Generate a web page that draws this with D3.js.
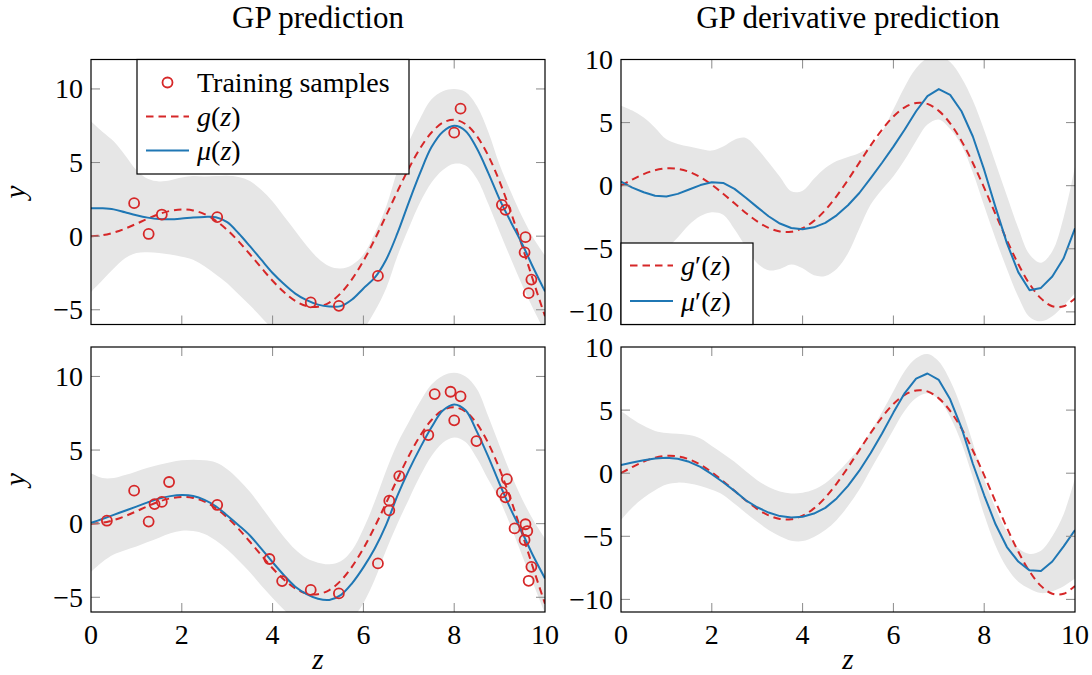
<!DOCTYPE html>
<html>
<head>
<meta charset="utf-8">
<script src="https://cdn.jsdelivr.net/npm/d3@7"></script>
<style>
  html, body { margin: 0; padding: 0; background: #fff; }
  svg { display: block; }
  svg text { font-family: 'Liberation Serif', 'DejaVu Serif', serif; }
</style>
</head>
<body>
<svg id="fig" width="1092" height="675"></svg>
<script>
// ---- data -------------------------------------------------------------
const zGrid = [0,0.25,0.5,0.75,1,1.25,1.5,1.75,2,2.25,2.5,2.75,3,3.25,3.5,3.75,4,4.25,4.5,4.75,
               5,5.25,5.5,5.75,6,6.25,6.5,6.75,7,7.25,7.5,7.75,8,8.25,8.5,8.75,9,9.25,9.5,9.75,10];

// reference function g(z) and its derivative g'(z)
const gRef  = [0,0.06,0.24,0.51,0.84,1.19,1.50,1.72,1.82,1.75,1.50,1.05,0.42,-0.35,-1.23,-2.14,-3.03,-3.80,-4.40,-4.75,
               -4.79,-4.51,-3.88,-2.92,-1.68,-0.21,1.40,3.04,4.60,5.97,7.04,7.71,7.91,7.61,6.79,5.47,3.71,1.61,-0.71,-3.12,-5.44];
const gDer  = [0,0.49,0.92,1.23,1.38,1.34,1.10,0.67,0.08,-0.64,-1.40,-2.16,-2.83,-3.34,-3.63,-3.65,-3.37,-2.79,-1.93,-0.82,
               0.46,1.83,3.19,4.44,5.48,6.21,6.56,6.48,5.93,4.94,3.54,1.80,-0.17,-2.26,-4.32,-6.21,-7.79,-8.93,-9.55,-9.56,-8.93];

// GP prediction, few samples
const muA   = [1.90,1.89,1.82,1.62,1.42,1.26,1.16,1.15,1.20,1.27,1.31,1.29,0.95,0.20,-0.68,-1.60,-2.50,-3.25,-3.90,-4.35,
               -4.65,-4.78,-4.75,-4.30,-3.55,-2.82,-1.60,0.20,2.30,4.30,6.05,7.10,7.50,7.15,5.95,4.30,2.50,0.95,-0.55,-2.20,-3.75];
const muAHi = [7.79,7.10,6.45,5.50,4.50,3.90,3.72,3.80,3.98,4.08,4.05,4.08,4.10,4.02,3.75,3.15,2.35,1.35,0.35,-0.65,
               -1.50,-2.05,-2.20,-1.95,-1.25,0.20,2.00,4.45,6.40,8.00,9.30,9.85,10.00,9.80,8.85,7.10,4.85,3.00,1.30,-0.15,-1.30];
const muALo = [-3.80,-3.00,-2.20,-1.50,-1.15,-1.10,-1.15,-1.25,-1.40,-1.60,-2.05,-2.60,-3.20,-3.95,-4.70,-5.50,-6.30,-7.00,-7.60,-7.90,
               -7.80,-7.50,-7.30,-6.90,-6.30,-5.10,-3.55,-1.35,0.55,2.30,3.65,4.50,4.92,4.80,3.90,2.20,0.30,-1.55,-3.35,-5.00,-6.50];

// GP prediction, many samples
const muB   = [0.05,0.32,0.60,0.88,1.16,1.45,1.70,1.87,1.94,1.88,1.62,1.18,0.56,-0.10,-0.80,-1.70,-2.62,-3.50,-4.28,-4.78,
               -5.10,-5.18,-4.85,-4.05,-2.97,-1.69,-0.08,1.90,3.62,5.15,6.55,7.68,8.10,7.70,6.25,4.55,2.70,0.95,-0.62,-2.25,-3.72];
const muBHi = [3.42,3.10,3.10,3.30,3.55,3.80,4.00,4.18,4.30,4.35,4.30,4.15,3.70,3.00,2.16,1.15,0.10,-0.90,-1.75,-2.35,
               -2.65,-2.75,-2.55,-1.80,-0.35,1.50,3.60,5.45,6.90,8.30,9.45,10.05,10.25,10.00,9.15,7.30,5.30,3.35,1.65,0.20,-1.00];
const muBLo = [-3.27,-2.60,-2.10,-1.80,-1.55,-1.25,-0.95,-0.65,-0.48,-0.50,-0.70,-1.15,-1.75,-2.50,-3.30,-4.20,-5.05,-5.85,-6.60,-7.20,
               -7.50,-7.60,-7.30,-6.50,-5.40,-3.80,-1.80,0.00,1.65,3.25,4.60,5.50,5.85,5.55,4.45,3.00,1.60,-0.20,-2.20,-4.15,-6.10];

// GP derivative prediction, few samples
const dmuA   = [0.32,-0.15,-0.52,-0.80,-0.85,-0.65,-0.30,0.05,0.28,0.22,-0.25,-0.95,-1.70,-2.42,-3.00,-3.35,-3.45,-3.30,-2.95,-2.35,
                -1.55,-0.58,0.60,1.82,3.10,4.45,5.90,7.10,7.66,7.20,5.90,3.90,1.25,-1.72,-4.55,-6.85,-8.28,-8.10,-7.20,-5.75,-3.38];
const dmuAHi = [6.34,5.95,5.40,4.60,3.68,3.30,3.10,2.90,2.78,3.10,3.65,3.78,2.95,1.85,0.70,-0.45,-0.40,0.55,1.40,1.95,
                2.28,2.60,3.10,4.25,6.05,7.85,9.30,10.10,10.30,9.80,8.55,6.75,4.40,1.80,-0.80,-3.35,-5.45,-6.10,-5.20,-2.50,1.50];
const dmuALo = [-6.20,-6.30,-6.20,-5.70,-5.00,-4.10,-3.10,-2.40,-2.10,-2.30,-3.45,-4.85,-6.15,-6.70,-6.60,-6.25,-6.55,-7.10,-7.15,-6.60,
                -5.35,-3.40,-1.50,-0.30,0.75,2.05,3.55,4.85,5.25,4.50,3.20,1.05,-1.60,-4.20,-6.60,-8.80,-10.40,-10.75,-10.35,-9.50,-8.50];

// GP derivative prediction, many samples
const dmuB   = [0.65,0.85,1.03,1.17,1.23,1.15,0.90,0.50,-0.08,-0.72,-1.40,-2.15,-2.70,-3.12,-3.40,-3.52,-3.45,-3.20,-2.75,-2.00,
                -1.00,0.20,1.60,3.15,4.80,6.35,7.50,7.90,7.39,5.85,3.60,0.75,-1.75,-4.05,-5.85,-7.00,-7.70,-7.75,-7.00,-5.80,-4.50];
const dmuBHi = [4.93,4.30,3.75,3.35,3.18,3.12,3.02,2.75,2.15,1.55,0.90,0.15,-0.55,-1.10,-1.45,-1.60,-1.55,-1.30,-0.80,0.00,
                0.95,2.00,3.30,4.85,6.50,8.10,9.10,9.44,8.85,7.35,5.15,2.40,-0.50,-2.75,-4.65,-5.95,-6.40,-6.15,-5.00,-3.25,-0.40];
const dmuBLo = [-3.71,-2.72,-1.95,-1.35,-0.90,-0.75,-0.82,-1.02,-1.32,-1.72,-2.42,-3.15,-3.85,-4.50,-5.00,-5.35,-5.38,-5.05,-4.50,-3.70,
                -2.60,-1.30,0.30,1.85,3.45,4.95,5.95,6.34,5.85,4.45,2.40,-0.35,-3.30,-5.75,-7.50,-8.60,-9.15,-9.50,-9.35,-8.95,-8.34];

// training samples
const sampleAZ = [0.95,1.27,1.56,2.78,4.84,5.46,6.32,8.00,8.14,9.05,9.13,9.57,9.55,9.70,9.64];
const sampleAY = [2.24,0.15,1.47,1.29,-4.50,-4.73,-2.70,7.03,8.66,2.13,1.79,-0.07,-1.10,-2.95,-3.87];
const sampleBZ = [0.35,0.95,1.27,1.40,1.56,1.72,2.78,3.93,4.21,4.84,5.46,6.32,6.57,6.57,6.79,7.43,7.57,7.92,8.00,8.14,
                  8.49,9.05,9.16,9.13,9.33,9.57,9.61,9.55,9.70,9.64];
const sampleBY = [0.20,2.24,0.14,1.33,1.48,2.83,1.27,-2.40,-3.90,-4.50,-4.74,-2.70,1.56,0.90,3.23,6.02,8.80,8.96,7.02,8.65,
                  5.61,2.12,3.03,1.79,-0.32,-0.04,-0.50,-1.11,-2.93,-3.88];

const xTicks = [0, 2, 4, 6, 8, 10];
const yTicksLeft = [-5, 0, 5, 10];
const yTicksRight = [-10, -5, 0, 5, 10];
const titles = ['GP prediction', 'GP derivative prediction'];

// ---- drawing ----------------------------------------------------------
const RED = '#d62728', BLUE = '#1f77b4', BAND = '#e6e6e6';
const FONT = "'Liberation Serif', 'DejaVu Serif', serif";
const svg = d3.select('#fig');
svg.append('rect').attr('width', 1092).attr('height', 675).attr('fill', '#fff');
const root = svg.append('g').attr('font-family', FONT);

const cols = [[91, 545], [621, 1075]];
const rows = [[59.5, 324.5], [347, 612]];

const panels = [
  {c: 0, r: 0, dom: [-6, 12], yt: yTicksLeft,  ref: gRef, mu: muA,  lo: muALo,  hi: muAHi,  pts: [sampleAZ, sampleAY], linear: false},
  {c: 1, r: 0, dom: [-11, 10], yt: yTicksRight, ref: gDer, mu: dmuA, lo: dmuALo, hi: dmuAHi, pts: null, linear: true},
  {c: 0, r: 1, dom: [-6, 12], yt: yTicksLeft,  ref: gRef, mu: muB,  lo: muBLo,  hi: muBHi,  pts: [sampleBZ, sampleBY], linear: false},
  {c: 1, r: 1, dom: [-11, 10], yt: yTicksRight, ref: gDer, mu: dmuB, lo: dmuBLo, hi: dmuBHi, pts: null, linear: true}
];

const fmt = v => v < 0 ? '\u2212' + Math.abs(v) : String(v);
const TICK = 9;
const TICK_FS = 28;

panels.forEach((p, i) => {
  const [x0, x1] = cols[p.c], [y0, y1] = rows[p.r];
  const x = d3.scaleLinear().domain([0, 10]).range([x0, x1]);
  const y = d3.scaleLinear().domain(p.dom).range([y1, y0]);
  const clipId = 'clip' + i;
  svg.append('clipPath').attr('id', clipId)
    .append('rect').attr('x', x0).attr('y', y0).attr('width', x1 - x0).attr('height', y1 - y0);
  const g = root.append('g');
  const plot = g.append('g').attr('clip-path', `url(#${clipId})`);

  const idx = d3.range(zGrid.length);
  const smooth = d3.curveCatmullRom.alpha(0.5);

  // uncertainty band
  plot.append('path')
    .attr('d', d3.area().x(k => x(zGrid[k])).y0(k => y(p.lo[k])).y1(k => y(p.hi[k])).curve(smooth)(idx))
    .attr('fill', BAND).attr('stroke', 'none');

  // reference function (dashed)
  plot.append('path')
    .attr('d', d3.line().x(k => x(zGrid[k])).y(k => y(p.ref[k])).curve(smooth)(idx))
    .attr('fill', 'none').attr('stroke', RED).attr('stroke-width', 2)
    .attr('stroke-dasharray', '7.5,5');

  // posterior mean
  plot.append('path')
    .attr('d', d3.line().x(k => x(zGrid[k])).y(k => y(p.mu[k])).curve(p.linear ? d3.curveLinear : smooth)(idx))
    .attr('fill', 'none').attr('stroke', BLUE).attr('stroke-width', 2)
    .attr('stroke-linejoin', 'round');

  // training samples
  if (p.pts) {
    const [zs, ys] = p.pts;
    g.selectAll(null).data(d3.range(zs.length)).join('circle')
      .attr('cx', k => x(zs[k])).attr('cy', k => y(ys[k])).attr('r', 5)
      .attr('fill', 'none').attr('stroke', RED).attr('stroke-width', 1.8);
  }

  // inward ticks on all four sides
  const tk = g.append('g').attr('stroke', '#8a8a8a').attr('stroke-width', 1);
  xTicks.forEach(t => {
    if (t === 0 || t === 10) return;
    tk.append('line').attr('x1', x(t)).attr('x2', x(t)).attr('y1', y1).attr('y2', y1 - TICK);
    tk.append('line').attr('x1', x(t)).attr('x2', x(t)).attr('y1', y0).attr('y2', y0 + TICK);
  });
  p.yt.forEach(t => {
    const yy = y(t);
    if (Math.abs(yy - y0) < 1 || Math.abs(yy - y1) < 1) return;
    tk.append('line').attr('x1', x0).attr('x2', x0 + TICK).attr('y1', yy).attr('y2', yy);
    tk.append('line').attr('x1', x1).attr('x2', x1 - TICK).attr('y1', yy).attr('y2', yy);
  });

  // frame
  g.append('rect').attr('x', x0).attr('y', y0).attr('width', x1 - x0).attr('height', y1 - y0)
    .attr('fill', 'none').attr('stroke', '#000').attr('stroke-width', 1.2);

  // y tick labels
  p.yt.forEach(t => {
    g.append('text').attr('x', x0 - 8).attr('y', y(t)).attr('dy', '0.34em')
      .attr('text-anchor', 'end').attr('font-size', TICK_FS).text(fmt(t));
  });

  // x tick labels and axis label on the bottom row
  if (p.r === 1) {
    xTicks.forEach(t => {
      g.append('text').attr('x', x(t)).attr('y', y1 + 32)
        .attr('text-anchor', 'middle').attr('font-size', TICK_FS).text(fmt(t));
    });
    g.append('text').attr('x', (x0 + x1) / 2).attr('y', 669)
      .attr('text-anchor', 'middle').attr('font-size', 29).attr('font-style', 'italic').text('z');
  }

  // y axis label on the left column
  if (p.c === 0) {
    const cy = (y0 + y1) / 2;
    g.append('text').attr('transform', `translate(25,${cy}) rotate(-90)`)
      .attr('text-anchor', 'middle').attr('font-size', 29).attr('font-style', 'italic').text('y');
  }

  // titles on the top row
  if (p.r === 0) {
    g.append('text').attr('x', (x0 + x1) / 2).attr('y', 28)
      .attr('text-anchor', 'middle').attr('font-size', 31).text(titles[p.c]);
  }
});

// ---- legends ----------------------------------------------------------
function mathLabel(sel, base, prime) {
  sel.append('tspan').attr('font-style', 'italic').text(base);
  if (prime) sel.append('tspan').text('\u2032');
  sel.append('tspan').text('(');
  sel.append('tspan').attr('font-style', 'italic').text('z');
  sel.append('tspan').text(')');
}

function legend(bx, by, bw, bh, items) {
  const lg = root.append('g');
  lg.append('rect').attr('x', bx).attr('y', by).attr('width', bw).attr('height', bh)
    .attr('fill', '#fff').attr('stroke', '#000').attr('stroke-width', 1.2);
  items.forEach(it => {
    const lx0 = bx + 9, lx1 = bx + 52;
    if (it.kind === 'marker') {
      lg.append('circle').attr('cx', (lx0 + lx1) / 2).attr('cy', it.y).attr('r', 5)
        .attr('fill', 'none').attr('stroke', RED).attr('stroke-width', 1.8);
    } else {
      lg.append('line').attr('x1', lx0).attr('x2', lx1).attr('y1', it.y).attr('y2', it.y)
        .attr('stroke', it.kind === 'dash' ? RED : BLUE).attr('stroke-width', 2)
        .attr('stroke-dasharray', it.kind === 'dash' ? '7.5,5' : null);
    }
    const t = lg.append('text').attr('x', lx1 + 8).attr('y', it.y).attr('dy', '0.34em').attr('font-size', 28);
    if (it.text) t.text(it.text); else mathLabel(t, it.base, it.prime);
  });
}

legend(137, 59.5, 272, 114.5, [
  {kind: 'marker', y: 82.5, text: 'Training samples'},
  {kind: 'dash', y: 116.5, base: 'g', prime: false},
  {kind: 'solid', y: 150.5, base: '\u03bc', prime: false}
]);
legend(621, 243, 132, 81.5, [
  {kind: 'dash', y: 265.5, base: 'g', prime: true},
  {kind: 'solid', y: 301, base: '\u03bc', prime: true}
]);
</script>
</body>
</html>
